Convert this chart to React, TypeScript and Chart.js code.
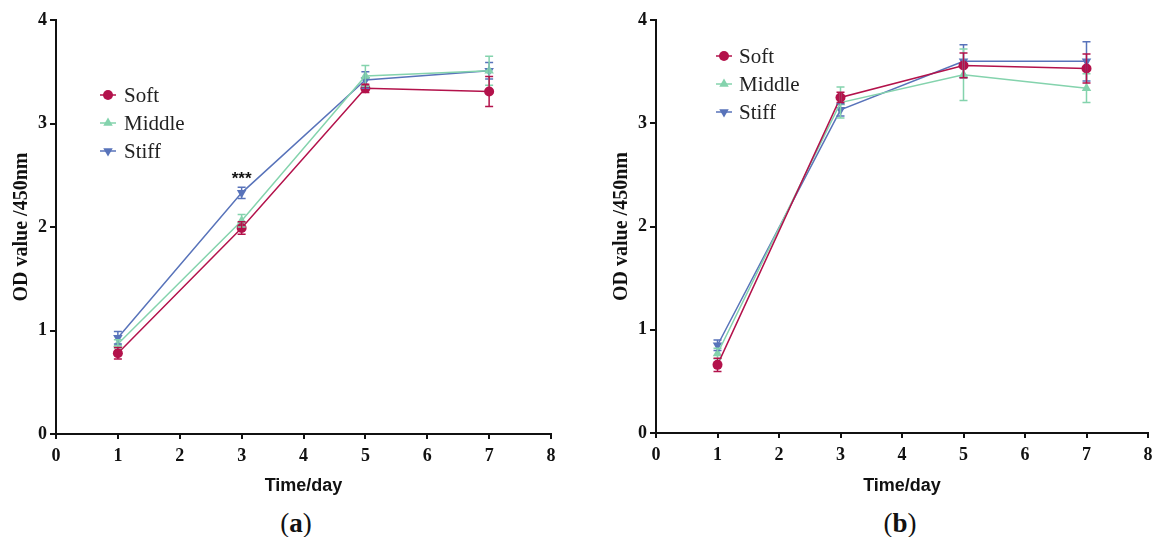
import React, { useEffect, useRef } from "react";
import { Chart, registerables } from "chart.js";

Chart.register(...registerables);

// ---------- data ----------
const days = [1, 3, 5, 7];
const seriesNames = ["Soft", "Middle", "Stiff"];

// panel (a)
const softA = [0.78, 1.99, 3.34, 3.31];
const softAErr = [0.055, 0.06, 0.04, 0.145];
const middleA = [0.87, 2.06, 3.46, 3.51];
const middleAErr = [0.04, 0.06, 0.1, 0.14];
const stiffA = [0.93, 2.33, 3.42, 3.51];
const stiffAErr = [0.06, 0.055, 0.08, 0.08];

// panel (b)
const softB = [0.66, 3.25, 3.56, 3.53];
const softBErr = [0.065, 0.05, 0.12, 0.14];
const middleB = [0.77, 3.2, 3.47, 3.34];
const middleBErr = [0.05, 0.15, 0.25, 0.14];
const stiffB = [0.85, 3.13, 3.6, 3.6];
const stiffBErr = [0.05, 0.06, 0.16, 0.19];

// significance mark on panel (a)
const annotText = "***";
const annotDay = 3;
const annotValue = 2.49;

const xMin = 0;
const xMax = 8;
const yMin = 0;
const yMax = 4;
const yTitle = "OD value /450nm";
const xTitle = "Time/day";

// ---------- styles ----------
const COLORS: Record<string, string> = {
  Soft: "#B3124B",
  Middle: "#84D3AD",
  Stiff: "#5873BA",
};
const POINT_STYLE: Record<string, any> = {
  Soft: { style: "circle", rotation: 0, radius: 5 },
  Middle: { style: "triangle", rotation: 0, radius: 5.5 },
  Stiff: { style: "triangle", rotation: 180, radius: 5.5 },
};

function drawMarker(ctx: CanvasRenderingContext2D, name: string, x: number, y: number) {
  const ps = POINT_STYLE[name];
  ctx.fillStyle = COLORS[name];
  ctx.beginPath();
  if (ps.style === "circle") {
    ctx.arc(x, y, ps.radius, 0, Math.PI * 2);
  } else {
    const r = ps.radius;
    const s = ps.rotation === 180 ? -1 : 1;
    ctx.moveTo(x, y - s * r);
    ctx.lineTo(x + r * 0.866, y + s * r * 0.5);
    ctx.lineTo(x - r * 0.866, y + s * r * 0.5);
    ctx.closePath();
  }
  ctx.fill();
}

const errorBarPlugin = {
  id: "errorBars",
  afterDatasetsDraw(chart: any) {
    const { ctx, scales } = chart;
    const ys = scales.y;
    const sets = chart.data.datasets;
    for (let i = sets.length - 1; i >= 0; i--) {
      const ds = sets[i];
      const meta = chart.getDatasetMeta(i);
      ctx.save();
      ctx.strokeStyle = ds.borderColor;
      ctx.lineWidth = 1.5;
      meta.data.forEach((pt: any, j: number) => {
        const v = ds.data[j].y;
        const e = ds.errors[j];
        const top = ys.getPixelForValue(v + e);
        const bot = ys.getPixelForValue(v - e);
        const x = pt.x;
        ctx.beginPath();
        ctx.moveTo(x, top);
        ctx.lineTo(x, bot);
        ctx.moveTo(x - 4, top);
        ctx.lineTo(x + 4, top);
        ctx.moveTo(x - 4, bot);
        ctx.lineTo(x + 4, bot);
        ctx.stroke();
      });
      ctx.restore();
    }
  },
};

const insideLegendPlugin = {
  id: "insideLegend",
  afterDraw(chart: any) {
    const o = chart.options.plugins.insideLegend;
    if (!o) return;
    const { ctx } = chart;
    ctx.save();
    chart.data.datasets.forEach((ds: any, i: number) => {
      const y = o.y + i * o.gap;
      ctx.strokeStyle = ds.borderColor;
      ctx.lineWidth = 1.5;
      ctx.beginPath();
      ctx.moveTo(o.x - 8, y);
      ctx.lineTo(o.x + 8, y);
      ctx.stroke();
      drawMarker(ctx, ds.label, o.x, y);
      ctx.fillStyle = "#222";
      ctx.font = "21px 'Liberation Serif', serif";
      ctx.textBaseline = "middle";
      ctx.textAlign = "left";
      ctx.fillText(ds.label, o.textX, y + 1);
    });
    ctx.restore();
  },
};

const starsPlugin = {
  id: "stars",
  afterDraw(chart: any) {
    const o = chart.options.plugins.stars;
    if (!o) return;
    const { ctx, scales } = chart;
    ctx.save();
    ctx.fillStyle = "#111";
    ctx.font = "bold 17px 'Liberation Sans', sans-serif";
    ctx.textAlign = "center";
    ctx.textBaseline = "middle";
    ctx.fillText(o.text, scales.x.getPixelForValue(o.x), scales.y.getPixelForValue(o.y) + 3);
    ctx.restore();
  },
};

type SeriesInput = { name: string; values: number[]; errors: number[] };

function buildConfig(series: SeriesInput[], legend: any, stars: any, bottomAxisH: number) {
  const axisColor = "#111";
  return {
    type: "line" as const,
    data: {
      datasets: series.map((s) => ({
        label: s.name,
        data: days.map((d, i) => ({ x: d, y: s.values[i] })),
        errors: s.errors,
        borderColor: COLORS[s.name],
        backgroundColor: COLORS[s.name],
        borderWidth: 1.5,
        pointStyle: POINT_STYLE[s.name].style,
        rotation: POINT_STYLE[s.name].rotation,
        pointRadius: POINT_STYLE[s.name].radius,
        pointBorderWidth: 0,
        pointBackgroundColor: COLORS[s.name],
        tension: 0,
        fill: false,
      })),
    },
    options: {
      animation: false,
      responsive: false,
      maintainAspectRatio: false,
      events: [],
      layout: { padding: { top: 20, right: legend.padRight, bottom: 0, left: 0 } },
      plugins: {
        legend: { display: false },
        tooltip: { enabled: false },
        insideLegend: legend,
        stars: stars,
      },
      scales: {
        x: {
          type: "linear",
          min: xMin,
          max: xMax,
          afterFit: (s: any) => {
            s.height = bottomAxisH;
          },
          ticks: {
            stepSize: 1,
            padding: 3,
            color: "#111",
            font: { family: "'Liberation Serif', serif", size: 18, weight: "bold", lineHeight: 1.6 },
          },
          grid: {
            display: true,
            drawOnChartArea: false,
            drawTicks: true,
            tickLength: 5,
            color: axisColor,
            lineWidth: 2,
          },
          border: { display: true, color: axisColor, width: 2 },
          title: {
            display: true,
            text: xTitle,
            color: "#111",
            padding: { top: 0, bottom: 3 },
            font: { family: "'Liberation Sans', sans-serif", size: 18, weight: "bold" },
          },
        },
        y: {
          type: "linear",
          min: yMin,
          max: yMax,
          afterFit: (s: any) => {
            s.width = 56;
          },
          ticks: {
            stepSize: 1,
            padding: 3,
            color: "#111",
            font: { family: "'Liberation Serif', serif", size: 18, weight: "bold" },
          },
          grid: {
            display: true,
            drawOnChartArea: false,
            drawTicks: true,
            tickLength: 6,
            color: axisColor,
            lineWidth: 2,
          },
          border: { display: true, color: axisColor, width: 2 },
          title: {
            display: true,
            text: yTitle,
            color: "#111",
            padding: { top: 10, bottom: 0 },
            font: { family: "'Liberation Serif', serif", size: 20, weight: "bold" },
          },
        },
      },
    },
    plugins: [errorBarPlugin, insideLegendPlugin, starsPlugin],
  };
}

function Panel(props: {
  left: number;
  width: number;
  height: number;
  series: SeriesInput[];
  legend: any;
  stars: any;
  bottomAxisH: number;
}) {
  const ref = useRef<HTMLCanvasElement>(null);
  useEffect(() => {
    if (!ref.current) return;
    const chart = new Chart(
      ref.current,
      buildConfig(props.series, props.legend, props.stars, props.bottomAxisH) as any
    );
    return () => chart.destroy();
  }, []);
  return (
    <canvas
      ref={ref}
      width={props.width}
      height={props.height}
      style={{
        position: "absolute",
        left: props.left,
        top: 0,
        width: props.width,
        height: props.height,
        display: "block",
      }}
    />
  );
}

function Caption(props: { x: number; letter: string }) {
  return (
    <div
      style={{
        position: "absolute",
        left: props.x - 40,
        width: 80,
        top: 507,
        height: 32,
        lineHeight: "32px",
        textAlign: "center",
        fontFamily: "'Liberation Serif', serif",
        fontSize: 27,
        color: "#111",
      }}
    >
      (<b>{props.letter}</b>)
    </div>
  );
}

export default function App() {
  const seriesA: SeriesInput[] = [
    { name: seriesNames[0], values: softA, errors: softAErr },
    { name: seriesNames[1], values: middleA, errors: middleAErr },
    { name: seriesNames[2], values: stiffA, errors: stiffAErr },
  ];
  const seriesB: SeriesInput[] = [
    { name: seriesNames[0], values: softB, errors: softBErr },
    { name: seriesNames[1], values: middleB, errors: middleBErr },
    { name: seriesNames[2], values: stiffB, errors: stiffBErr },
  ];
  return (
    <div
      style={{
        position: "absolute",
        left: 0,
        top: 0,
        width: 1156,
        height: 537,
        background: "#fff",
        overflow: "hidden",
      }}
    >
      <Panel
        left={0}
        width={600}
        height={500}
        series={seriesA}
        legend={{ x: 108, textX: 124, y: 95, gap: 28, padRight: 49 }}
        stars={{ x: annotDay, y: annotValue, text: annotText }}
        bottomAxisH={66}
      />
      <Panel
        left={600}
        width={556}
        height={500}
        series={seriesB}
        legend={{ x: 124, textX: 139, y: 56, gap: 28, padRight: 8 }}
        stars={null}
        bottomAxisH={67}
      />
      <Caption x={296} letter="a" />
      <Caption x={900} letter="b" />
    </div>
  );
}
